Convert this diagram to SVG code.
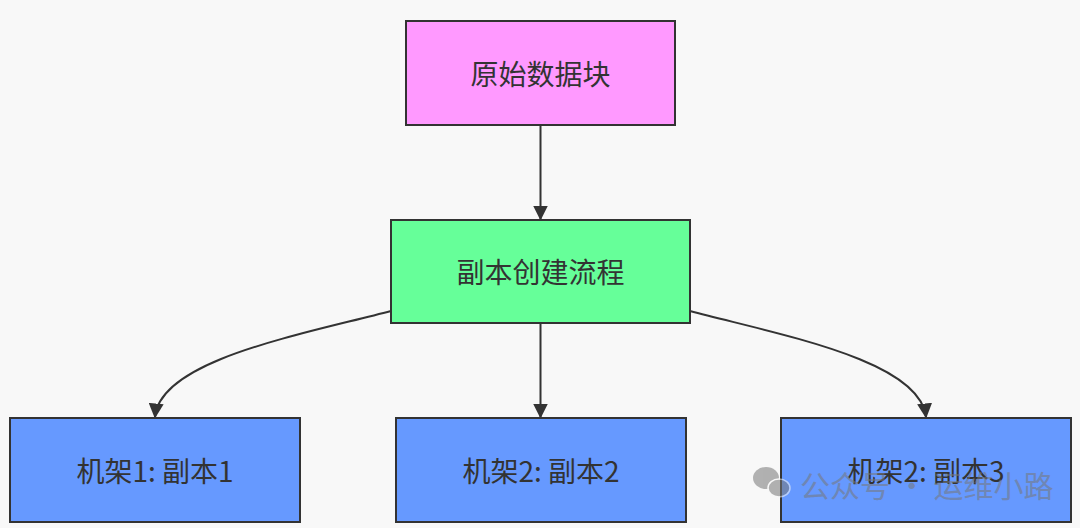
<svg xmlns="http://www.w3.org/2000/svg" width="1080" height="528" viewBox="0 0 1080 528">
<style>
.n{stroke:#333;stroke-width:2}
.t{font-family:"Noto Sans CJK SC","Noto Sans",sans-serif;font-size:28px;fill:#333;text-anchor:middle;dominant-baseline:central}
.e{fill:none;stroke:#333;stroke-width:2}
</style>
<defs><marker id="a" viewBox="0 0 10 10" refX="9" refY="5" markerWidth="15" markerHeight="15" markerUnits="userSpaceOnUse" orient="auto"><path d="M0,0L10,5L0,10z" fill="#333"/></marker></defs>
<rect width="1080" height="528" fill="#f8f8f8"/>
<g id="connectors">
<path class="e" d="M540.5,125V219" marker-end="url(#a)"/>
<path class="e" d="M540.5,323V417" marker-end="url(#a)"/>
<path class="e" d="M391,311C300,335 160,360 155,417" marker-end="url(#a)"/>
<path class="e" d="M690,311C780,335 920,360 926,417" marker-end="url(#a)"/>
</g>
<g id="n1"><rect class="n" x="406" y="21" width="269" height="104" fill="#ff99ff"/><text class="t" x="540.5" y="73">原始数据块</text></g>
<g id="n2"><rect class="n" x="391" y="220" width="299" height="103" fill="#66ff99"/><text class="t" x="540.5" y="271">副本创建流程</text></g>
<g id="n3"><rect class="n" x="10" y="418" width="290" height="104" fill="#6699ff"/><text class="t" x="155" y="470">机架1: 副本1</text></g>
<g id="n4"><rect class="n" x="396" y="418" width="290" height="104" fill="#6699ff"/><text class="t" x="541" y="470">机架2: 副本2</text></g>
<g id="n5"><rect class="n" x="781" y="418" width="290" height="104" fill="#6699ff"/><text class="t" x="926" y="470">机架2: 副本3</text></g>
<g id="watermark" opacity="0.55" fill="#777">
<ellipse cx="766" cy="478" rx="13" ry="11"/><ellipse cx="779" cy="488" rx="11" ry="9" stroke="#f8f8f8" stroke-width="1.5"/>
<text x="800" y="484" style="font-family:'Noto Sans CJK SC',sans-serif;font-size:30px;dominant-baseline:central">公众号 · 运维小路</text>
</g>
</svg>
